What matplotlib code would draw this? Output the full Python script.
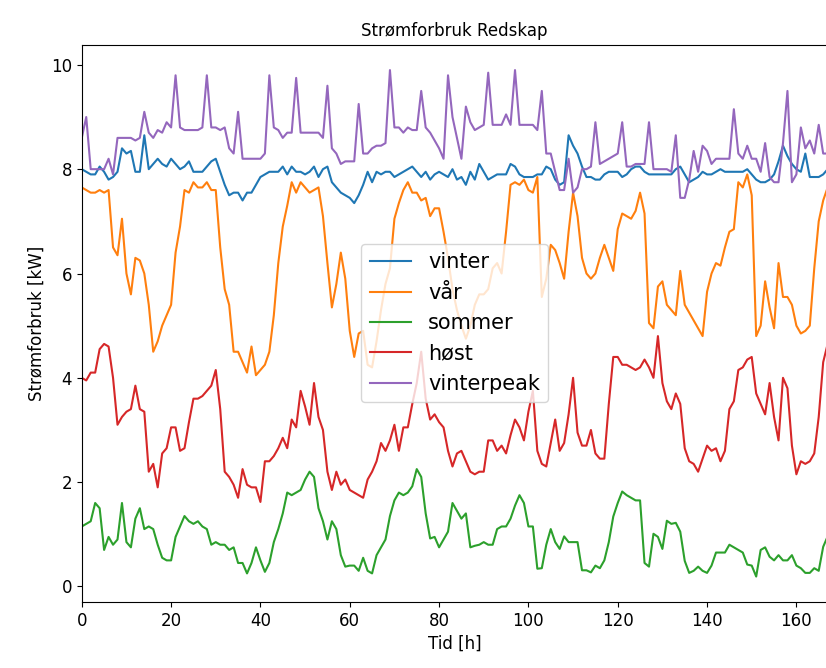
import matplotlib
matplotlib.use("Agg")
import matplotlib.pyplot as plt
import numpy as np

vinter = [8.0,7.95,7.9,7.9,8.05,7.95,7.8,7.85,7.95,8.4,
8.3,8.35,7.95,7.95,8.65,8.0,8.1,8.2,8.1,8.05,
8.2,8.1,8.0,8.05,8.15,7.95,7.95,7.95,8.05,8.15,
8.2,7.95,7.7,7.5,7.55,7.55,7.4,7.55,7.55,7.7,
7.85,7.9,7.95,7.95,7.95,8.05,7.9,8.05,7.95,7.95,
7.9,7.95,8.05,7.85,8.0,8.05,7.75,7.65,7.55,7.5,
7.45,7.35,7.5,7.7,7.95,7.75,7.95,7.9,7.95,7.95,
7.85,7.9,7.95,8.0,8.05,7.95,7.85,7.95,7.8,7.9,
7.95,7.9,7.85,8.0,7.8,7.85,7.7,7.95,7.8,8.1,
7.95,7.8,7.85,7.9,7.9,7.9,8.1,8.05,7.9,7.85,
7.85,7.85,7.9,7.9,8.05,8.0,7.8,7.7,7.75,8.65,
8.45,8.3,8.05,7.85,7.85,7.8,7.8,7.9,7.95,7.95,
7.95,7.85,7.9,8.0,8.05,8.05,7.95,7.9,7.9,7.9,
7.9,7.9,7.9,8.0,8.05,7.9,7.75,7.8,7.85,7.95,
7.9,7.9,7.95,8.0,7.95,7.95,7.95,7.95,7.95,8.0,
7.9,7.8,7.75,7.75,7.8,7.9,8.15,8.45,8.25,8.1,
8.0,7.95,8.3,7.85,7.85,7.85,7.9,8.0]

var = [7.65,7.6,7.55,7.55,7.6,7.55,7.6,6.5,6.35,7.05,
6.0,5.6,6.3,6.25,6.0,5.4,4.5,4.7,5.0,5.2,
5.4,6.4,6.9,7.6,7.55,7.75,7.65,7.65,7.75,7.6,
7.6,6.5,5.7,5.4,4.5,4.5,4.3,4.1,4.6,4.05,
4.15,4.25,4.5,5.2,6.2,6.9,7.3,7.75,7.55,7.75,
7.65,7.55,7.6,7.65,7.1,6.2,5.35,5.8,6.4,5.9,
4.9,4.4,4.85,4.9,4.25,4.2,4.7,5.3,5.8,6.1,
7.05,7.35,7.6,7.75,7.55,7.55,7.4,7.45,7.1,7.25,
7.25,6.8,6.3,5.7,5.3,5.0,4.75,5.0,5.4,5.6,
5.6,5.7,6.1,6.2,6.0,6.8,7.7,7.75,7.7,7.8,
7.6,7.55,7.85,5.55,5.9,6.55,6.45,6.2,5.9,6.8,
7.55,7.1,6.3,6.0,5.9,6.0,6.3,6.55,6.3,6.05,
6.85,7.15,7.1,7.05,7.2,7.55,7.15,5.05,4.95,5.75,
5.85,5.4,5.3,5.2,6.05,5.4,5.25,5.1,4.95,4.8,
5.65,6.0,6.2,6.15,6.5,6.8,6.85,7.75,7.65,7.9,
7.5,4.8,5.0,5.85,5.35,4.95,6.2,5.55,5.55,5.4,
5.0,4.85,4.9,5.0,6.1,7.0,7.4,7.65]

sommer = [1.15,1.2,1.25,1.6,1.5,0.7,0.95,0.8,0.9,1.6,
0.85,0.75,1.3,1.5,1.1,1.15,1.1,0.8,0.55,0.5,
0.5,0.95,1.15,1.35,1.25,1.2,1.25,1.15,1.1,0.8,
0.85,0.8,0.8,0.7,0.75,0.45,0.45,0.25,0.45,0.75,
0.5,0.28,0.45,0.85,1.1,1.4,1.8,1.75,1.8,1.85,
2.05,2.2,2.1,1.5,1.25,0.9,1.25,1.1,0.6,0.38,
0.4,0.4,0.3,0.55,0.3,0.25,0.6,0.75,0.9,1.35,
1.65,1.8,1.75,1.8,1.92,2.25,2.1,1.4,0.92,0.95,
0.75,0.9,1.05,1.6,1.45,1.3,1.4,0.75,0.78,0.8,
0.85,0.8,0.8,1.1,1.15,1.15,1.3,1.55,1.75,1.6,
1.15,1.15,0.34,0.35,0.8,1.1,0.85,0.72,0.96,0.85,
0.85,0.85,0.31,0.31,0.27,0.4,0.35,0.5,0.85,1.34,
1.6,1.82,1.75,1.7,1.65,1.65,0.45,0.38,1.01,0.95,
0.72,1.26,1.2,1.22,1.05,0.49,0.26,0.3,0.38,0.3,
0.26,0.4,0.65,0.65,0.65,0.8,0.75,0.7,0.65,0.42,
0.4,0.19,0.7,0.75,0.57,0.5,0.6,0.5,0.5,0.6,
0.4,0.35,0.26,0.26,0.35,0.3,0.76,0.96]

host = [4.0,3.95,4.1,4.1,4.55,4.65,4.6,4.0,3.1,3.25,
3.35,3.4,3.85,3.4,3.35,2.2,2.35,1.9,2.55,2.65,
3.05,3.05,2.6,2.65,3.15,3.6,3.6,3.65,3.75,3.85,
4.15,3.4,2.2,2.1,1.95,1.7,2.25,1.95,1.9,1.9,
1.62,2.4,2.4,2.5,2.65,2.85,2.65,3.2,3.05,3.75,
3.45,3.1,3.9,3.25,3.0,2.2,1.85,2.2,1.95,2.05,
1.85,1.8,1.75,1.7,2.05,2.2,2.4,2.75,2.6,2.8,
3.1,2.6,3.05,3.05,3.5,3.9,4.5,3.6,3.2,3.3,
3.15,3.05,2.6,2.3,2.55,2.6,2.4,2.2,2.15,2.2,
2.2,2.8,2.8,2.6,2.7,2.55,2.9,3.2,3.05,2.8,
3.35,3.75,2.6,2.35,2.3,2.75,3.2,2.6,2.75,3.3,
4.0,2.95,2.7,2.7,3.0,2.55,2.45,2.45,3.5,4.4,
4.4,4.25,4.25,4.2,4.15,4.2,4.35,4.2,4.0,4.8,
3.9,3.55,3.4,3.7,3.5,2.65,2.4,2.35,2.2,2.45,
2.7,2.6,2.65,2.4,2.6,3.4,3.55,4.15,4.2,4.35,
4.4,3.7,3.5,3.3,3.9,3.25,2.8,4.0,3.8,2.7,
2.15,2.4,2.35,2.4,2.55,3.25,4.3,4.65]

vinterpeak = [8.6,9.0,8.0,8.0,8.0,8.0,8.2,7.9,8.6,8.6,
8.6,8.6,8.55,8.6,9.1,8.7,8.6,8.75,8.7,8.9,
8.8,9.8,8.8,8.75,8.75,8.75,8.75,8.8,9.8,8.8,
8.8,8.75,8.8,8.4,8.3,9.1,8.2,8.2,8.2,8.2,
8.2,8.3,9.8,8.8,8.75,8.6,8.7,8.7,9.75,8.7,
8.7,8.7,8.7,8.7,8.6,9.6,8.4,8.3,8.1,8.15,
8.15,8.15,9.25,8.3,8.3,8.4,8.45,8.45,8.5,9.9,
8.8,8.8,8.7,8.8,8.75,8.75,9.5,8.8,8.7,8.55,
8.4,8.2,9.8,9.0,8.6,8.2,9.2,8.9,8.75,8.8,
8.85,9.85,8.85,8.85,8.85,9.05,8.85,9.9,8.85,8.85,
8.85,8.85,8.75,9.5,8.3,8.3,7.95,7.6,7.6,8.2,
7.55,7.65,8.0,8.0,8.05,8.9,8.1,8.15,8.2,8.25,
8.3,8.9,8.05,8.05,8.1,8.1,8.1,8.9,8.0,8.0,
8.0,8.0,7.95,8.65,7.45,7.45,7.8,8.35,7.95,8.45,
8.35,8.1,8.2,8.2,8.2,8.2,9.15,8.3,8.2,8.45,
8.2,8.2,7.95,8.5,7.85,7.75,7.75,8.5,9.5,7.75,
7.9,8.8,8.4,8.55,8.3,8.85,8.3,8.3]

series = [("vinter", vinter), ("vår", var), ("sommer", sommer),
          ("høst", host), ("vinterpeak", vinterpeak)]

fig = plt.figure(figsize=(8.26, 6.68), dpi=100)
ax = fig.add_axes([0.099, 0.099, 0.903, 0.834])
for name, vals in series:
    ax.plot(np.arange(len(vals)), vals, label=name, lw=1.5)
ax.set_xlim(0, 167)
ax.set_yticks([0, 2, 4, 6, 8, 10])
ax.set_title("Strømforbruk Redskap")
ax.set_xlabel("Tid [h]", fontsize=12)
ax.set_ylabel("Strømforbruk [kW]", fontsize=12)
ax.tick_params(labelsize=12)
ax.legend(loc="center", fontsize=15)
fig.savefig("out.png", dpi=100)
